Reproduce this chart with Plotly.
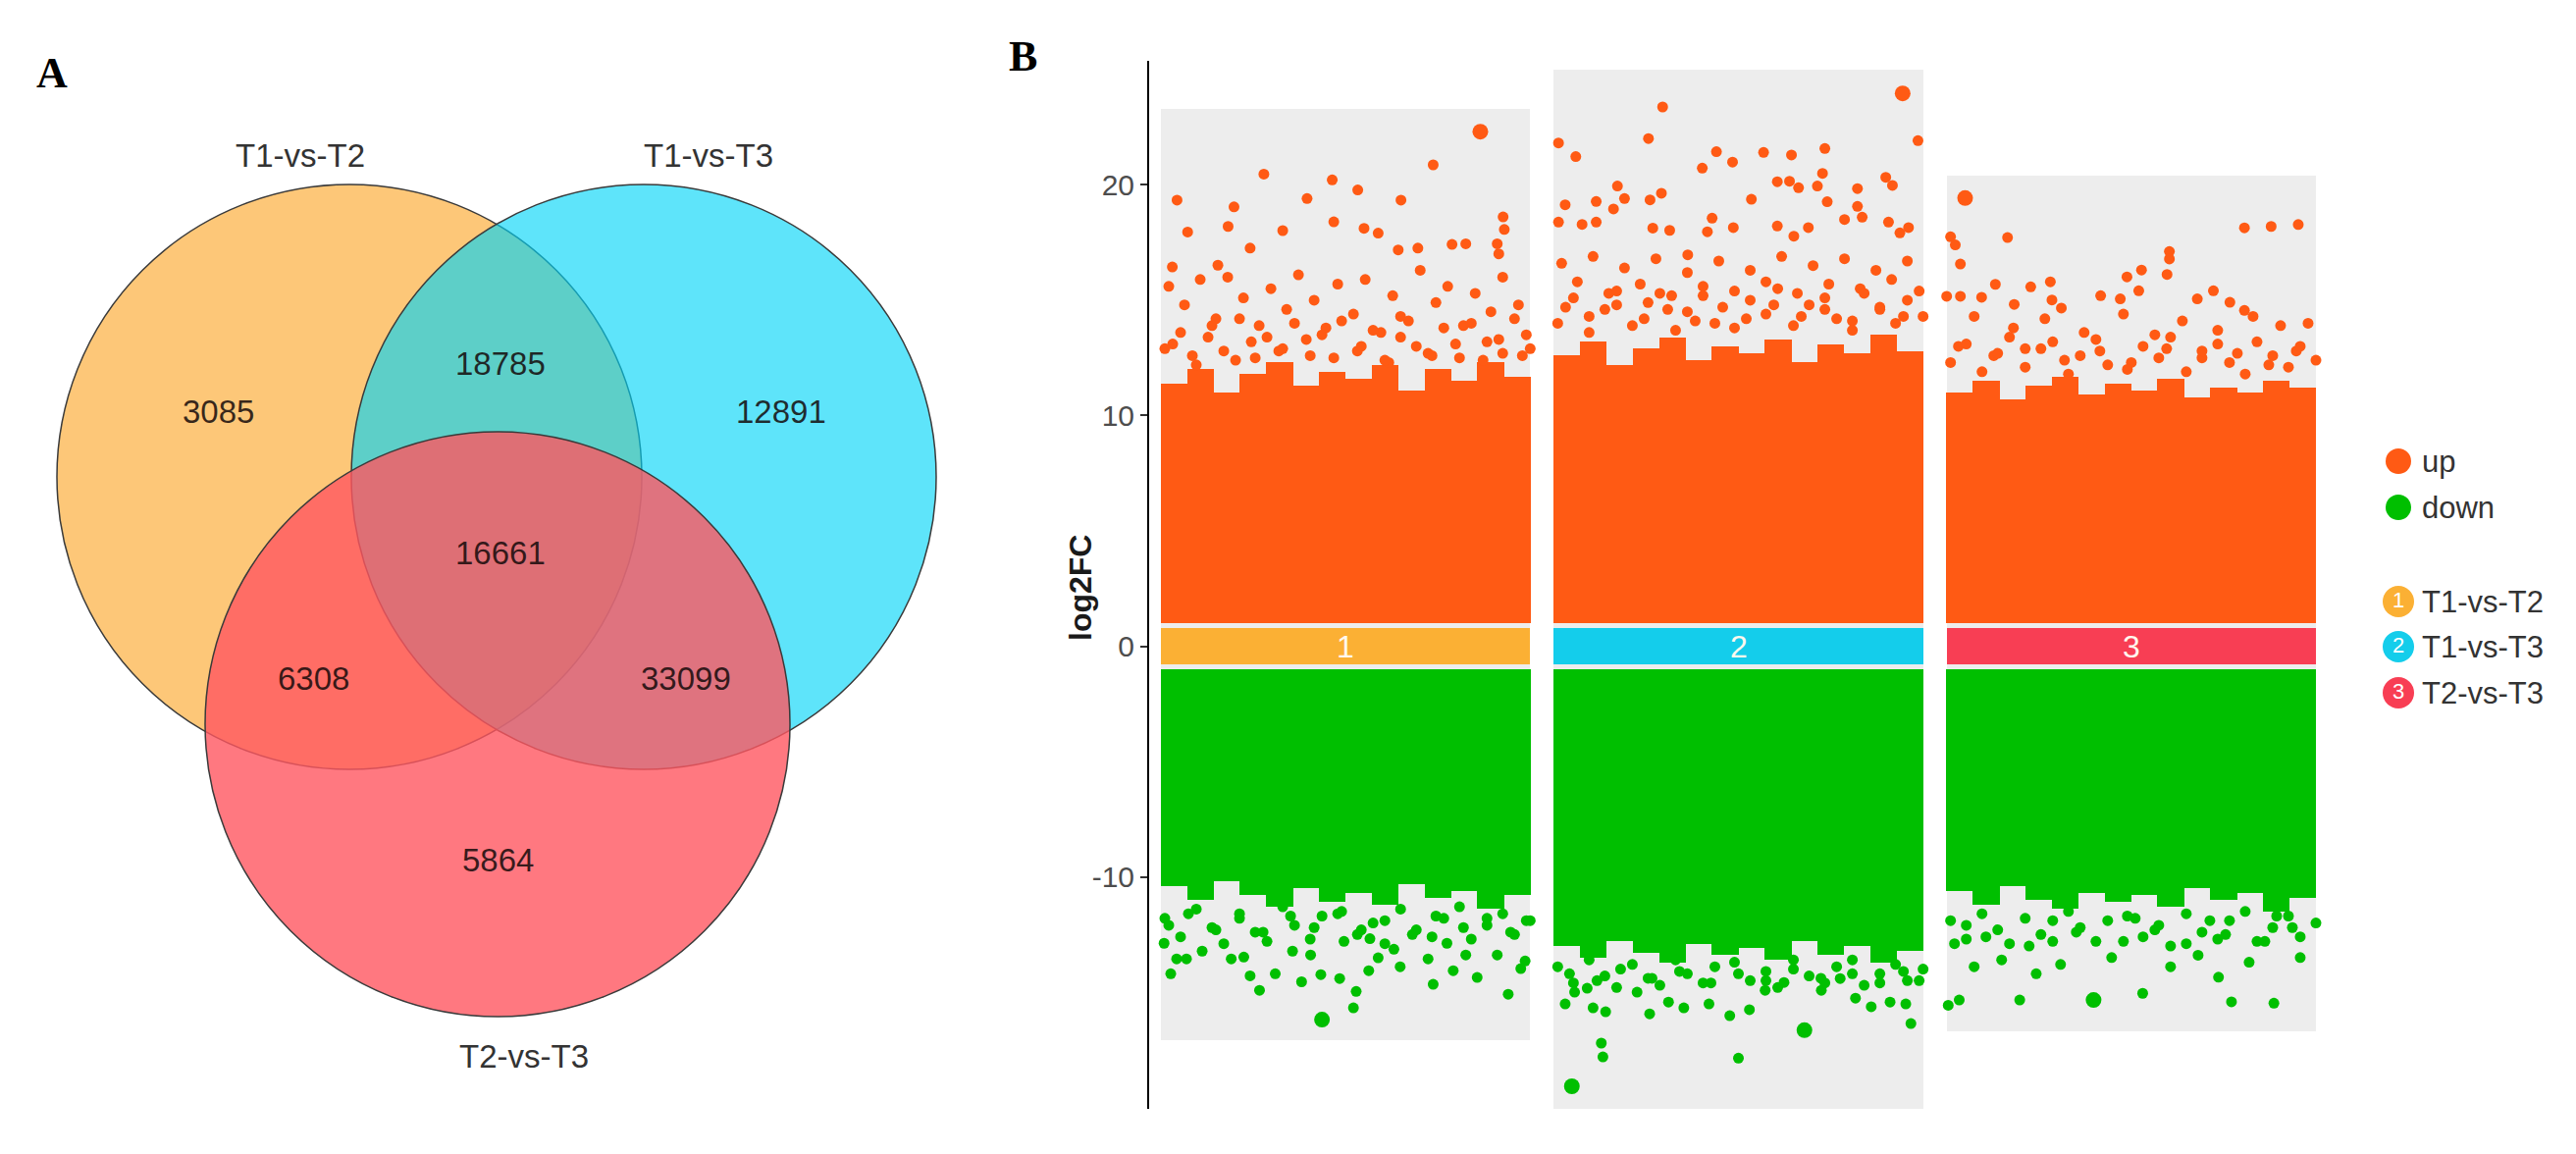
import plotly.graph_objects as go

# ---------------- Panel A : Venn counts ----------------
set_names = ['T1-vs-T2', 'T1-vs-T3', 'T2-vs-T3']
# region keys: which sets the region belongs to
venn_regions = ['1', '2', '3', '12', '13', '23', '123']
venn_counts = [3085, 12891, 5864, 18785, 6308, 33099, 16661]

# ---------------- Panel B : log2FC per comparison ----------------
groups = [1, 2, 3]
group_labels = ['1', '2', '3']
group_names = ['T1-vs-T2', 'T1-vs-T3', 'T2-vs-T3']
fc_max = [23.3, 25.0, 20.4]      # top of grey background (max log2FC)
fc_min = [-17.1, -20.06, -16.7]  # bottom of grey background (min log2FC)

# upper edge of the solid "up" cloud, read slice by slice (left to right)
up_dense = [
    [11.4, 12.0, 11.0, 11.8, 12.3, 11.3, 11.9, 11.6, 12.2, 11.1, 12.0, 11.5, 12.3, 11.7],
    [12.6, 13.2, 12.2, 12.9, 13.4, 12.4, 13.0, 12.7, 13.3, 12.3, 13.1, 12.7, 13.5, 12.8],
    [11.0, 11.5, 10.7, 11.3, 11.7, 10.9, 11.4, 11.1, 11.6, 10.8, 11.2, 11.0, 11.5, 11.2],
]
# lower edge of the solid "down" cloud
down_dense = [
    [-10.4, -11.0, -10.2, -10.8, -11.3, -10.5, -11.1, -10.7, -11.2, -10.3, -10.9, -10.6, -11.4, -10.8],
    [-13.0, -13.5, -12.8, -13.3, -13.7, -12.9, -13.4, -13.1, -13.6, -12.8, -13.4, -13.0, -13.7, -13.2],
    [-10.6, -11.2, -10.4, -11.0, -11.4, -10.7, -11.1, -10.8, -11.3, -10.5, -11.0, -10.7, -11.5, -10.9],
]

# scattered genes outside the dense cloud: jitter offset and log2FC
edge_off = [-0.46, -0.42, -0.38, -0.34, -0.31, -0.27, -0.23, -0.20, -0.16, -0.13, -0.09, -0.06, -0.01,
            0.03, 0.07, 0.10, 0.14, 0.18, 0.22, 0.25, 0.29, 0.32, 0.36, 0.40, 0.43, 0.47]

up_off_1 = [0.223, -0.208, -0.034, 0.031, -0.429, -0.098, 0.141, -0.284, -0.030, -0.160,
            -0.402, -0.299, 0.047, 0.083, 0.401, 0.404, 0.271, 0.306, 0.386, 0.390,
            -0.243, 0.134, 0.184, -0.441, -0.325,
            -0.45, -0.41, -0.37, -0.33, -0.30, -0.26, -0.22, -0.19, -0.15, -0.12, -0.08, -0.05,
            -0.02, 0.02, 0.05, 0.09, 0.12, 0.16, 0.19, 0.23, 0.26, 0.30, 0.33, 0.37, 0.40, 0.44, 0.46,
            -0.44, -0.39, -0.35, -0.28, -0.24, -0.17, -0.10, -0.03, 0.04, 0.11, 0.14, 0.21, 0.28,
            0.35, 0.39, 0.45] + edge_off
up_fc_1 = [20.87, 20.47, 20.22, 19.78, 19.34, 19.41, 19.34, 19.05, 18.40, 18.02,
           17.96, 18.20, 18.12, 17.91, 18.61, 18.07, 17.42, 17.45, 17.45, 17.01,
           17.26, 17.18, 17.26, 16.44, 16.52,
           15.6, 14.8, 15.9, 14.2, 16.0, 15.1, 13.9, 15.5, 14.6, 16.1, 15.0, 13.8,
           15.7, 14.4, 15.9, 13.6, 15.2, 14.1, 16.3, 14.9, 15.6, 13.9, 15.3, 14.5, 16.0, 14.8, 13.5,
           13.1, 12.6, 13.4, 12.4, 13.2, 12.8, 13.3, 12.5, 13.0, 12.3, 13.4, 12.7, 13.1,
           12.4, 13.3, 12.6,
           12.9, 13.6, 12.2, 13.9, 12.8, 14.2, 12.5, 13.4, 12.9, 14.0, 12.6, 13.5, 14.1,
           12.8, 13.7, 12.4, 14.3, 13.0, 12.6, 13.8, 12.5, 14.0, 13.2, 12.7, 14.2, 12.9]

up_off_2 = [-0.193, -0.458, -0.414, -0.229, 0.457, -0.056, -0.015, -0.092, 0.064, 0.135,
            0.220, 0.214, 0.099, 0.130, 0.153, 0.201, 0.226, 0.375, 0.392, 0.303,
            0.303, 0.315, 0.033, -0.308, -0.290, -0.362, -0.441, -0.318, -0.225, -0.196,
            -0.067, -0.079, -0.013, 0.099, 0.178, 0.270, 0.382, 0.433, 0.411, -0.458,
            -0.398, -0.362, -0.218, -0.175, 0.141, -0.129,
            -0.45, -0.41, -0.37, -0.33, -0.29, -0.25, -0.21, -0.17, -0.13, -0.09, -0.05, -0.01,
            0.03, 0.07, 0.11, 0.15, 0.19, 0.23, 0.27, 0.31, 0.35, 0.39, 0.43, 0.46,
            -0.44, -0.38, -0.31, -0.24, -0.18, -0.11, -0.04, 0.02, 0.09, 0.16, 0.22, 0.29, 0.36, 0.42] + edge_off
up_fc_2 = [23.38, 21.82, 21.23, 22.01, 21.92, 21.44, 20.99, 20.73, 21.41, 21.30,
           21.58, 20.50, 20.14, 20.16, 19.88, 19.95, 19.27, 20.33, 19.98, 19.84,
           19.07, 18.60, 19.38, 19.95, 19.41, 19.28, 19.14, 18.96, 19.35, 19.64,
           18.56, 17.97, 18.15, 18.22, 18.15, 18.50, 18.39, 18.15, 17.92, 18.39,
           18.29, 18.39, 18.13, 18.03, 17.78, 16.97,
           16.6, 15.8, 16.9, 15.3, 16.4, 15.7, 16.8, 15.2, 16.2, 15.6, 16.7, 15.4,
           16.3, 15.8, 16.9, 15.3, 16.5, 15.7, 16.8, 15.5, 16.3, 15.9, 16.7, 15.4,
           14.7, 14.3, 14.8, 14.2, 14.6, 14.1, 14.7, 14.2, 14.8, 14.3, 14.6, 14.1, 14.7, 14.3,
           14.0, 15.1, 13.6, 14.6, 15.4, 13.9, 14.9, 15.3, 13.7, 14.5, 15.2, 14.0, 13.8,
           15.0, 14.4, 15.5, 13.9, 14.8, 15.1, 14.2, 13.7, 15.3, 14.6, 14.0, 15.0, 14.3]

up_off_3 = [-0.315, -0.460, -0.448, -0.435, 0.288, 0.097, 0.097, 0.091, 0.026, -0.011,
            0.019, -0.206, -0.346, -0.256, 0.209, 0.168, 0.251, -0.470, -0.435, -0.381,
            -0.298, -0.202, -0.178, -0.078, -0.028, 0.288, 0.425, 0.356,
            -0.40, -0.30, -0.22, -0.12, -0.02, 0.06, 0.13, 0.22, 0.31, 0.38, 0.45,
            -0.44, -0.35, -0.27, -0.17, -0.08, 0.00, 0.09, 0.18, 0.27, 0.35, 0.42] + edge_off
up_fc_3 = [17.72, 17.75, 17.40, 16.57, 18.14, 17.11, 16.79, 16.12, 16.31, 16.01,
           15.41, 15.80, 15.69, 15.58, 15.41, 15.06, 14.91, 15.17, 15.17, 15.13,
           14.82, 15.01, 14.66, 15.20, 15.06, 14.56, 18.28, 18.20,
           14.3, 13.8, 14.2, 13.6, 14.4, 13.5, 14.1, 13.7, 14.3, 13.9, 14.0,
           13.0, 12.6, 12.9, 12.4, 12.8, 12.3, 12.9, 12.5, 12.7, 12.2, 12.8,
           12.3, 13.1, 11.9, 12.7, 13.4, 12.1, 12.9, 13.2, 11.8, 12.6, 13.3, 12.2, 12.0,
           13.0, 12.5, 13.4, 11.9, 12.8, 13.1, 12.3, 11.8, 13.2, 12.6, 12.1, 13.0, 12.4]

down_off_1 = [0.020, 0.027, -0.219, 0.414, 0.223, -0.445, -0.243, -0.179, -0.112, -0.063,
              -0.015, 0.059, 0.139, 0.274, 0.335, 0.446, -0.430, -0.405, -0.365, -0.291,
              -0.259, -0.135, -0.089, 0.083, 0.210, 0.258, 0.306, 0.386, 0.457, -0.462,
              -0.004, 0.123, 0.062,
              -0.45, -0.40, -0.33, -0.27, -0.21, -0.14, -0.08, -0.02, 0.04, 0.10, 0.17, 0.23,
              0.30, 0.36, 0.42, 0.46] + edge_off
down_fc_1 = [-15.68, -14.97, -14.92, -15.09, -14.66, -14.20, -14.29, -14.20, -14.55, -14.24,
             -14.41, -14.07, -13.90, -14.07, -14.36, -13.98, -13.56, -13.56, -13.22, -13.56,
             -13.48, -13.22, -13.39, -13.51, -13.56, -12.88, -13.39, -13.39, -13.65, -12.88,
             -12.80, -13.14, -12.68,
             -12.1, -11.6, -12.3, -11.8, -12.4, -11.7, -12.2, -11.6, -12.3, -11.9, -12.5, -11.7,
             -12.2, -11.8, -12.4, -11.9,
             -11.8, -12.6, -11.4, -12.2, -12.9, -11.6, -12.4, -12.8, -11.3, -12.1, -12.7, -11.7, -11.5,
             -12.5, -12.0, -12.9, -11.4, -12.3, -12.6, -11.8, -11.3, -12.7, -12.1, -11.6, -12.5, -11.9]

down_off_2 = [-0.349, -0.345, -0.000, 0.439, -0.441, -0.370, -0.338, -0.226, -0.139, -0.075,
              -0.022, 0.028, 0.338, 0.426, 0.386, -0.417, -0.385, -0.258, -0.178, 0.068,
              0.211, 0.298, 0.116, 0.259,
              -0.43, -0.36, -0.30, -0.22, -0.15, -0.07, 0.00, 0.07, 0.14, 0.21, 0.29, 0.36, 0.42, 0.46] + edge_off
down_fc_2 = [-17.21, -17.81, -17.86, -16.36, -15.51, -15.68, -15.85, -15.94, -15.68, -15.51,
             -16.02, -15.76, -15.63, -15.51, -15.43, -15.00, -14.83, -15.00, -15.43, -14.92,
             -14.92, -15.26, -14.58, -14.41,
             -14.2, -14.5, -14.0, -14.4, -14.1, -14.6, -14.2, -14.5, -14.0, -14.4, -14.2, -14.6, -14.1, -14.5,
             -13.9, -14.6, -13.6, -14.3, -14.8, -13.8, -14.4, -14.7, -13.6, -14.2, -14.6, -13.9, -13.7,
             -14.5, -14.1, -14.8, -13.6, -14.3, -14.6, -13.9, -13.6, -14.7, -14.2, -13.8, -14.5, -14.0]

down_off_3 = [-0.438, -0.284, 0.029, 0.255, 0.363, -0.466, -0.242, 0.222, -0.40, -0.33,
              -0.18, -0.05, 0.10, 0.17, 0.30, 0.43, -0.45, -0.37, -0.26, -0.14,
              -0.02, 0.06, 0.14, 0.24, 0.34, 0.41, -0.42, -0.20, 0.01, 0.20, 0.37] + edge_off
down_fc_3 = [-15.34, -15.34, -15.05, -15.42, -15.48, -15.57, -14.20, -14.35, -13.9, -13.6,
             -13.8, -13.5, -13.9, -13.4, -13.7, -13.5, -12.9, -12.6, -13.0, -12.4,
             -12.8, -12.3, -12.9, -12.5, -12.8, -12.2, -12.1, -11.9, -11.8, -11.9, -11.7,
             -11.9, -12.7, -11.6, -12.3, -12.9, -11.8, -12.5, -12.8, -11.5, -12.2, -12.8, -11.9, -11.7,
             -12.6, -12.1, -13.0, -11.6, -12.4, -12.7, -11.9, -11.5, -12.8, -12.2, -11.7, -12.6, -12.0]

# top genes, drawn larger
top_group = [1, 2, 3, 1, 2, 2, 3]
top_off = [0.343, 0.418, -0.423, -0.060, -0.424, 0.168, -0.096]
top_fc = [22.31, 23.97, 19.43, -16.19, -19.08, -16.65, -15.34]

# ---------------- styles ----------------
UP = '#FF5A14'
DOWN = '#00BF00'
BG = '#EDEDED'
GROUP_COLORS = ['#FBB034', '#14CDEB', '#F83E54']
VENN_FILL = ['rgba(252,169,47,0.65)', 'rgba(0,212,247,0.63)', 'rgba(255,86,96,0.8)']
FONT = 'Liberation Sans, Arial, sans-serif'
W, H = 2625, 1176
HALF = 0.47   # half width of each comparison column

fig = go.Figure()

# grey background per comparison
fig.add_trace(go.Bar(x=groups, base=fc_min, y=[a - b for a, b in zip(fc_max, fc_min)],
                     width=2 * HALF, marker=dict(color=BG, line=dict(width=0)), hoverinfo='skip'))

# dense clouds as slices
for g, ups, downs in zip(groups, up_dense, down_dense):
    n = len(ups)
    w = 2 * HALF / n
    xs = [g - HALF + (i + 0.5) * w for i in range(n)]
    fig.add_trace(go.Bar(x=xs, base=[1] * n, y=[h - 1 for h in ups], width=w * 1.02,
                         marker=dict(color=UP, line=dict(width=0)), hoverinfo='skip'))
    fig.add_trace(go.Bar(x=xs, base=downs, y=[-1 - h for h in downs], width=w * 1.02,
                         marker=dict(color=DOWN, line=dict(width=0)), hoverinfo='skip'))

# comparison tiles at zero
fig.add_trace(go.Bar(x=groups, base=[-0.8] * 3, y=[1.6] * 3, width=2 * HALF,
                     marker=dict(color=GROUP_COLORS, line=dict(width=0)), hoverinfo='skip'))

# scattered genes
ups = [(1, up_off_1, up_fc_1), (2, up_off_2, up_fc_2), (3, up_off_3, up_fc_3)]
downs = [(1, down_off_1, down_fc_1), (2, down_off_2, down_fc_2), (3, down_off_3, down_fc_3)]
for sets, col in [(ups, UP), (downs, DOWN)]:
    xs, ys = [], []
    for g, offs, fcs in sets:
        xs += [g + o for o in offs]
        ys += fcs
    fig.add_trace(go.Scatter(x=xs, y=ys, mode='markers',
                             marker=dict(size=11, color=col, line=dict(width=0))))

fig.add_trace(go.Scatter(x=[g + o for g, o in zip(top_group, top_off)], y=top_fc, mode='markers',
                         marker=dict(size=16, color=[UP if v > 0 else DOWN for v in top_fc],
                                     line=dict(width=0))))

# tile numbers
for g, lab in zip(groups, group_labels):
    fig.add_annotation(x=g, y=0, xref='x', yref='y', text=lab, showarrow=False,
                       font=dict(family=FONT, size=32, color='#FFF8EE'))

# ---------------- Venn (pixel axes) ----------------
venn_circles = [(348, 478), (648, 478), (499, 730)]
venn_r = 298
for (cx, cy), fill in zip(venn_circles, VENN_FILL):
    fig.add_shape(type='circle', xref='x2', yref='y2', x0=cx - venn_r, x1=cx + venn_r,
                  y0=cy - venn_r, y1=cy + venn_r, fillcolor=fill,
                  line=dict(color='#3A3A3A', width=1.5), layer='above')

region_pos = {'1': (214, 411), '2': (788, 411), '3': (499, 868), '12': (502, 362),
              '13': (311, 683), '23': (691, 683), '123': (502, 555)}
for reg, cnt in zip(venn_regions, venn_counts):
    px, py = region_pos[reg]
    fig.add_annotation(x=px, y=py, xref='x2', yref='y2', text=str(cnt), showarrow=False,
                       font=dict(family=FONT, size=33, color='rgba(20,10,10,0.85)'))

name_pos = [(298, 150), (714, 150), (526, 1068)]
for nm, (px, py) in zip(set_names, name_pos):
    fig.add_annotation(x=px, y=py, xref='x2', yref='y2', text=nm, showarrow=False,
                       font=dict(family=FONT, size=33, color='#333333'))

# ---------------- legend (pixel axes) ----------------
leg_x = 2436
fig.add_trace(go.Scatter(x=[leg_x, leg_x], y=[462, 509], mode='markers', xaxis='x2', yaxis='y2',
                         marker=dict(size=26, color=[UP, DOWN], line=dict(width=0))))
leg_y = [605, 651, 698]
fig.add_trace(go.Scatter(x=[leg_x] * 3, y=leg_y, mode='markers+text', xaxis='x2', yaxis='y2',
                         text=group_labels, textposition='middle center',
                         textfont=dict(family=FONT, size=22, color='white'),
                         marker=dict(size=32, color=GROUP_COLORS, line=dict(width=0))))
for txt, py in zip(['up', 'down'] + group_names, [462, 509] + leg_y):
    fig.add_annotation(x=leg_x + 22, y=py, xref='x2', yref='y2', text=txt, showarrow=False,
                       xanchor='left', font=dict(family=FONT, size=31, color='#333333'))

# panel letters and axis title
fig.add_annotation(x=45, y=66, xref='x2', yref='y2', text='<b>A</b>', showarrow=False,
                   font=dict(family='Liberation Serif, Times New Roman, serif', size=44, color='black'))
fig.add_annotation(x=1034, y=49, xref='x2', yref='y2', text='<b>B</b>', showarrow=False,
                   font=dict(family='Liberation Serif, Times New Roman, serif', size=44, color='black'))
fig.add_annotation(x=1093, y=591, xref='x2', yref='y2', text='<b>log2FC</b>', showarrow=False,
                   textangle=-90, font=dict(family=FONT, size=32, color='#1A1A1A'))

fig.update_layout(
    width=W, height=H, margin=dict(l=0, r=0, t=0, b=0),
    paper_bgcolor='white', plot_bgcolor='rgba(0,0,0,0)',
    showlegend=False, barmode='overlay', bargap=0,
    xaxis=dict(domain=[1163 / W, 2364 / W], range=[0.5, 3.5], visible=False),
    yaxis=dict(domain=[1 - 1122 / H, 1 - 54 / H], range=[-20.06, 25.38],
               tickvals=[-10, 0, 10, 20], ticktext=['-10', '0', '10', '20'],
               showline=True, linecolor='black', linewidth=2, ticks='outside', ticklen=7,
               tickwidth=1.5, tickcolor='#333333', showgrid=False, zeroline=False,
               tickfont=dict(family=FONT, size=30, color='#4D4D4D')),
    xaxis2=dict(domain=[0, 1], range=[0, W], visible=False, anchor='y2'),
    yaxis2=dict(domain=[0, 1], range=[H, 0], visible=False, anchor='x2'),
)

fig.write_html('out.html')
